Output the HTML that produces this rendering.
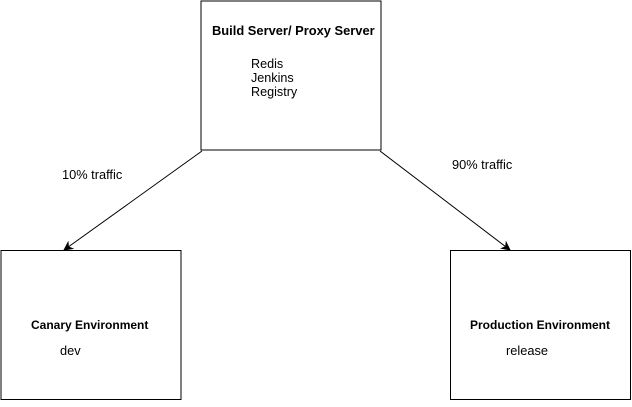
<!DOCTYPE html>
<html><head><style>
body{margin:0;background:#fff;}
svg text{font-family:"Liberation Sans",Arial,sans-serif;font-size:12px;fill:#000;}
</style></head><body>
<svg width="632" height="402" xmlns="http://www.w3.org/2000/svg">
<defs><marker id="a" markerWidth="10" markerHeight="10" refX="9" refY="5" orient="auto" markerUnits="userSpaceOnUse"><path d="M0,0 L10,5 L0,10 L3,5 z" fill="#000"/></marker></defs>
<rect x="201" y="1" width="180" height="149" fill="#fff" stroke="#000" stroke-width="1"/>
<rect x="1" y="250.5" width="180" height="149" fill="#fff" stroke="#000"/>
<rect x="450.5" y="250.5" width="180" height="149" fill="#fff" stroke="#000"/>
<line x1="202" y1="151" x2="64" y2="250" stroke="#000" marker-end="url(#a)"/>
<line x1="380" y1="151" x2="510" y2="250" stroke="#000" marker-end="url(#a)"/>
<text x="212" y="35" font-weight="bold" style="font-size:12.9px">Build Server/ Proxy Server</text>
<text x="251" y="68" style="font-size:12.6px">Redis</text>
<text x="251" y="82" style="font-size:12.6px">Jenkins</text>
<text x="251" y="96" style="font-size:12.6px">Registry</text>
<text x="62" y="179" style="font-size:12.8px">10% traffic</text>
<text x="452" y="169" style="font-size:12.8px">90% traffic</text>
<text x="31" y="329" font-weight="bold">Canary Environment</text>
<text x="60" y="355" style="font-size:12.8px">dev</text>
<text x="470" y="329" font-weight="bold">Production Environment</text>
<text x="506" y="355" style="font-size:12.8px">release</text>
</svg>
</body></html>
